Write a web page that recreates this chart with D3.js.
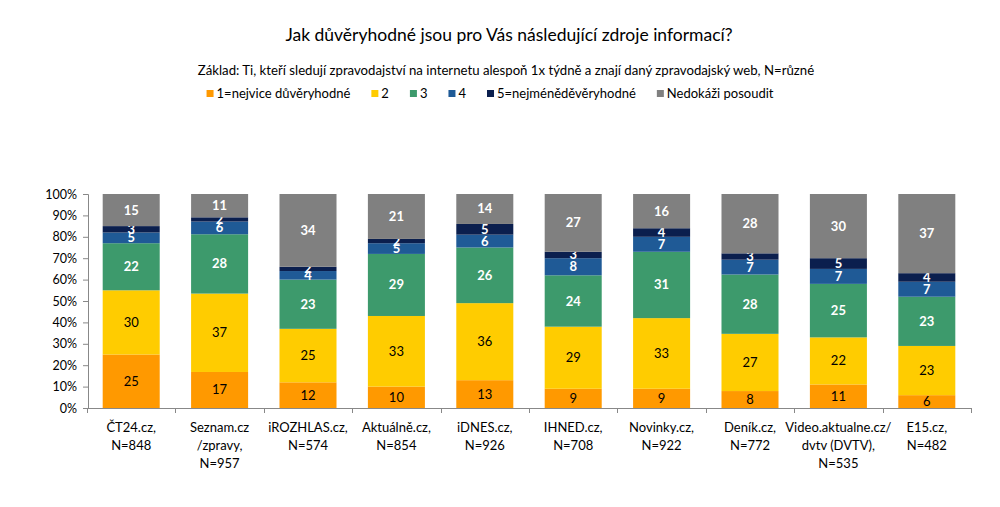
<!DOCTYPE html>
<html>
<head>
<meta charset="utf-8">
<script src="https://cdn.jsdelivr.net/npm/d3@7"></script>
<style>
  body { margin: 0; background: #fff; }
  svg text { font-family: Lato, "Open Sans", sans-serif; }
</style>
</head>
<body>
<svg width="1000" height="507"></svg>
<script>
// categories (x axis labels, split into lines)
const categories = ["ČT24", "Seznam", "iROZHLAS", "Aktualne", "iDNES", "IHNED", "Novinky", "Denik", "DVTV", "E15"];
const categoryLabels = [
    ["ČT24.cz,", "N=848"],
    ["Seznam.cz", "/zpravy,", "N=957"],
    ["iROZHLAS.cz,", "N=574"],
    ["Aktuálně.cz,", "N=854"],
    ["iDNES.cz,", "N=926"],
    ["IHNED.cz,", "N=708"],
    ["Novinky.cz,", "N=922"],
    ["Deník.cz,", "N=772"],
    ["Video.aktualne.cz/", "dvtv (DVTV),", "N=535"],
    ["E15.cz,", "N=482"]
];
const seriesNames = ["1=nejvice důvěryhodné", "2", "3", "4", "5=nejméněděvěryhodné", "Nedokáži posoudit"];
const seriesColors = ["#FF9900", "#FFCC00", "#3D9A6C", "#1F5A96", "#0B1F4E", "#808080"];

// values per series, in category order
const s1 = [25, 17, 12, 10, 13, 9, 9, 8, 11, 6];
const s2 = [30, 37, 25, 33, 36, 29, 33, 27, 22, 23];
const s3 = [22, 28, 23, 29, 26, 24, 31, 28, 25, 23];
const s4 = [5, 6, 4, 5, 6, 8, 7, 7, 7, 7];
const s5 = [3, 2, 2, 2, 5, 3, 4, 3, 5, 4];
const s6 = [15, 11, 34, 21, 14, 27, 16, 28, 30, 37];
const yTicks = [0, 0.1, 0.2, 0.3, 0.4, 0.5, 0.6, 0.7, 0.8, 0.9, 1];

const allSeries = [s1, s2, s3, s4, s5, s6];
const rows = categories.map((c, i) => {
    const r = { cat: c };
    allSeries.forEach((s, j) => r["k" + j] = s[i]);
    return r;
});
const keys = allSeries.map((s, j) => "k" + j);

const svg = d3.select("svg");

// title + subtitle
svg.append("text")
    .attr("x", 509).attr("y", 41)
    .attr("text-anchor", "middle")
    .style("font-size", "17.5px")
    .text("Jak důvěryhodné jsou pro Vás následující zdroje informací?");

svg.append("text")
    .attr("x", 506).attr("y", 75)
    .attr("text-anchor", "middle")
    .style("font-size", "13.2px")
    .text("Základ: Ti, kteří sledují zpravodajství na internetu alespoň 1x týdně a znají daný zpravodajský web, N=různé");

// legend
const legend = svg.append("g");
let lx = 0;
seriesNames.forEach((name, i) => {
    const item = legend.append("g").attr("transform", `translate(${lx},0)`);
    item.append("rect").attr("x", 0).attr("y", -8).attr("width", 7).attr("height", 7)
        .attr("fill", seriesColors[i]);
    const t = item.append("text").attr("x", 10).attr("y", 0)
        .style("font-size", "13px").text(name);
    lx += 10 + t.node().getComputedTextLength() + 21;
});
lx -= 21;
legend.attr("transform", `translate(${490 - lx / 2},98)`);

// scales
const x = d3.scaleBand().domain(categories).range([87, 971]).paddingInner(0.355).paddingOuter(0.1775);
const y = d3.scaleLinear().domain([0, 1]).range([408, 194]);

const stack = d3.stack().keys(keys).offset(d3.stackOffsetExpand);
const stacked = stack(rows);

const layers = svg.append("g").selectAll("g")
    .data(stacked)
    .enter().append("g")
    .attr("fill", (d, i) => seriesColors[i]);

layers.selectAll("rect")
    .data(d => d)
    .enter().append("rect")
    .attr("x", d => x(d.data.cat))
    .attr("width", x.bandwidth())
    .attr("y", d => y(d[1]))
    .attr("height", d => y(d[0]) - y(d[1]));

// value labels
layers.each(function (layer, i) {
    d3.select(this).selectAll("text")
        .data(layer)
        .enter().append("text")
        .attr("x", d => x(d.data.cat) + x.bandwidth() / 2)
        .attr("y", d => (y(d[0]) + y(d[1])) / 2 + 4.5)
        .attr("text-anchor", "middle")
        .style("font-size", "13px")
        .style("font-weight", i >= 2 ? "bold" : "normal")
        .attr("fill", i >= 2 ? "#fff" : "#000")
        .text(d => d.data[layer.key]);
});

// y axis
const yAxis = svg.append("g")
    .attr("transform", "translate(88,0)")
    .call(d3.axisLeft(y).tickValues(yTicks).tickFormat(d3.format(".0%")).tickSize(5).tickPadding(6));
yAxis.select(".domain").attr("stroke", "#888");
yAxis.selectAll(".tick line").attr("stroke", "#888");
yAxis.selectAll("text").style("font-size", "12.5px").style("font-family", "Lato, sans-serif").attr("fill", "#000");

// x axis: line with ticks between categories
const xa = svg.append("g");
xa.append("line").attr("x1", 87).attr("x2", 971).attr("y1", 408.5).attr("y2", 408.5).attr("stroke", "#888");
const step = x.step();
d3.range(categories.length + 1).forEach(i => {
    const tx = Math.round(87 + i * step) + 0.5;
    xa.append("line").attr("x1", tx).attr("x2", tx).attr("y1", 408).attr("y2", 413).attr("stroke", "#888");
});

// category labels
categoryLabels.forEach((lines, i) => {
    const t = svg.append("text")
        .attr("x", x(categories[i]) + x.bandwidth() / 2)
        .attr("y", 432)
        .attr("text-anchor", "middle")
        .style("font-size", "13px");
    lines.forEach((ln, j) => {
        t.append("tspan")
            .attr("x", x(categories[i]) + x.bandwidth() / 2)
            .attr("dy", j === 0 ? 0 : 18)
            .text(ln);
    });
});
</script>
</body>
</html>
